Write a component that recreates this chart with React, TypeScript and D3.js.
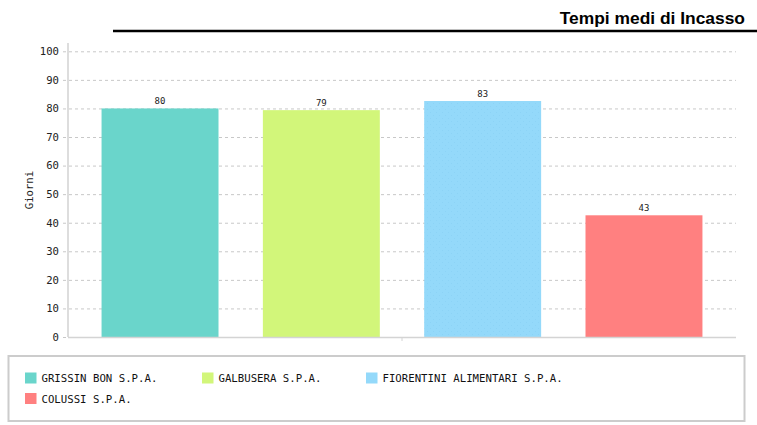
import React, { useEffect, useRef } from 'react';
import { select, scaleBand, scaleLinear, axisLeft, range } from 'd3';

const companies = ['GRISSIN BON S.P.A.', 'GALBUSERA S.P.A.', 'FIORENTINI ALIMENTARI S.P.A.', 'COLUSSI S.P.A.'];
const giorni = [80, 79.4, 82.6, 42.6];
const colors = ['#6AD5CB', '#D2F67A', '#94D9FA', '#FF8080'];
const yTicks = [0, 10, 20, 30, 40, 50, 60, 70, 80, 90, 100];

const W = 757;
const H = 425;
const MONO = '"DejaVu Sans Mono", monospace';

const App: React.FC = () => {
  const svgRef = useRef<SVGSVGElement>(null);

  useEffect(() => {
    if (!svgRef.current) return;
    const svg = select(svgRef.current);
    svg.selectAll('*').remove();

    const plot = { left: 68, right: 736, top: 43, bottom: 337 };

    const x = scaleBand<string>()
      .domain(companies)
      .range([plot.left, plot.right])
      .paddingInner(0.275)
      .paddingOuter(0.208);

    const y = scaleLinear().domain([0, 100]).range([plot.bottom, 51.3]);

    // faint dot texture on the blue bar
    const defs = svg.append('defs');
    const pat = defs.append('pattern')
      .attr('id', 'dots')
      .attr('width', 6)
      .attr('height', 6)
      .attr('patternUnits', 'userSpaceOnUse');
    pat.append('rect').attr('width', 6).attr('height', 6).attr('fill', colors[2]);
    pat.append('circle').attr('cx', 1.5).attr('cy', 1.5).attr('r', 0.45).attr('fill', '#84cdf2');
    pat.append('circle').attr('cx', 4.5).attr('cy', 4.5).attr('r', 0.45).attr('fill', '#84cdf2');

    // title
    svg.append('text')
      .attr('x', 745)
      .attr('y', 24)
      .attr('text-anchor', 'end')
      .attr('font-family', '"Liberation Sans", Arial, sans-serif')
      .attr('font-weight', 'bold')
      .attr('font-size', 17.4)
      .attr('fill', '#000')
      .text('Tempi medi di Incasso');
    svg.append('line')
      .attr('x1', 113).attr('x2', W)
      .attr('y1', 31).attr('y2', 31)
      .attr('stroke', '#000')
      .attr('stroke-width', 2.5);

    // grid + y axis
    svg.append('g')
      .attr('transform', `translate(${plot.left},0)`)
      .call(axisLeft(y).tickValues(yTicks).tickSizeOuter(0).tickPadding(4))
      .call(g => g.select('.domain').remove())
      .call(g => g.selectAll('.tick line')
        .attr('x1', -5)
        .attr('x2', plot.right - plot.left)
        .attr('stroke', '#c8c8c8')
        .attr('stroke-dasharray', '3,3'))
      .call(g => g.selectAll('.tick text')
        .attr('x', -9)
        .attr('font-family', MONO)
        .attr('font-size', 10.6)
        .attr('fill', '#222'));

    // bars
    svg.append('g')
      .selectAll('rect')
      .data(giorni)
      .join('rect')
      .attr('x', (_, i) => x(companies[i])!)
      .attr('y', d => y(d))
      .attr('width', x.bandwidth())
      .attr('height', d => plot.bottom - y(d))
      .attr('fill', (_, i) => (i === 2 ? 'url(#dots)' : colors[i]));

    svg.append('g')
      .selectAll('text')
      .data(giorni)
      .join('text')
      .attr('x', (_, i) => x(companies[i])! + x.bandwidth() / 2)
      .attr('y', d => y(d) - 4)
      .attr('text-anchor', 'middle')
      .attr('font-family', MONO)
      .attr('font-size', 9)
      .attr('fill', '#222')
      .text(d => Math.round(d));

    // axis lines
    svg.append('line')
      .attr('x1', plot.left).attr('x2', plot.left)
      .attr('y1', plot.top).attr('y2', plot.bottom)
      .attr('stroke', '#dddddd')
      .attr('stroke-width', 2);
    svg.append('line')
      .attr('x1', plot.left).attr('x2', plot.right)
      .attr('y1', plot.bottom + 0.5).attr('y2', plot.bottom + 0.5)
      .attr('stroke', '#d4d4d4')
      .attr('stroke-width', 1.5);
    svg.append('line')
      .attr('x1', (plot.left + plot.right) / 2).attr('x2', (plot.left + plot.right) / 2)
      .attr('y1', plot.bottom).attr('y2', plot.bottom + 4)
      .attr('stroke', '#d4d4d4');

    // y title
    svg.append('text')
      .attr('transform', `translate(33,${(plot.top + plot.bottom) / 2}) rotate(-90)`)
      .attr('text-anchor', 'middle')
      .attr('font-family', MONO)
      .attr('font-size', 10.6)
      .attr('fill', '#222')
      .text('Giorni');

    // legend
    svg.append('rect')
      .attr('x', 8.5).attr('y', 356)
      .attr('width', 736).attr('height', 65)
      .attr('fill', '#fff')
      .attr('stroke', '#cccccc')
      .attr('stroke-width', 2);

    const colX = [25, 202, 366];
    const items = svg.append('g')
      .selectAll('g')
      .data(range(companies.length))
      .join('g')
      .attr('transform', i => `translate(${colX[i % 3]},${372.5 + Math.floor(i / 3) * 20.5})`);
    items.append('rect')
      .attr('width', 11.5).attr('height', 11)
      .attr('fill', i => colors[i]);
    items.append('text')
      .attr('x', 16.5)
      .attr('y', 9.5)
      .attr('font-family', MONO)
      .attr('font-size', 10.7)
      .attr('fill', '#111')
      .text(i => companies[i]);
  }, []);

  return (
    <div style={{ position: 'fixed', left: 0, top: 0, background: '#fff' }}>
      <svg ref={svgRef} width={W} height={H} style={{ display: 'block' }} />
    </div>
  );
};

export default App;
